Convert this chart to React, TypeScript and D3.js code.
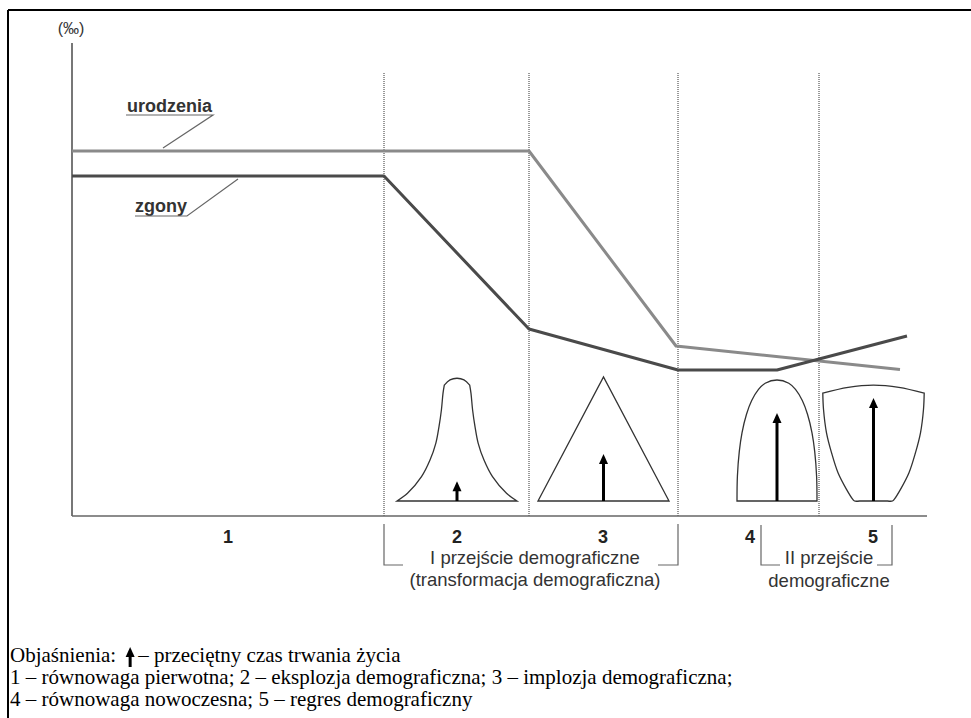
import React, { useLayoutEffect, useRef, useState } from 'react';
import * as d3 from 'd3';

const W = 971;
const H = 718;

// time axis in arbitrary units, rates in per mille
const phaseBounds = [31.2, 45.7, 60.6, 74.7];
const birthT = [0, 45.7, 60.4, 82.8];
const birthRate = [36.5, 36.5, 17.0, 14.65];
const deathT = [0, 31.2, 45.7, 60.6, 70.5, 83.5];
const deathRate = [34.0, 34.0, 18.7, 14.6, 14.6, 18.0];

const phaseLabels = ['1', '2', '3', '4', '5'];
const phaseLabelT = [15.6, 38.5, 53.1, 67.8, 80.1];

// age pyramids: centre (time units) and average life expectancy (pyramid units)
const pyramidT = [38.5, 53.15, 70.5, 80.15];
const lifeExpectancy = [16, 38, 71, 83];

// pyramid outlines: height (0-100) and half-width (time units)
const bellH = [0, 6.2, 19.6, 33, 46.5, 60, 73.4, 86.8, 93.5];
const bellHW = [6.0, 4.95, 3.55, 2.7, 2.12, 1.8, 1.56, 1.4, 1.27];
const bellCap = 99;
const triH = [0, 100];
const triHW = [6.55, 0];
const domeH = [0, 20, 40, 55, 70, 81, 90, 95, 97.6];
const domeHW = [4.0, 3.96, 3.77, 3.5, 3.05, 2.53, 1.85, 1.18, 0];
const cupH = [0, 0, 1.3, 9.4, 22.8, 39, 55, 74, 87];
const cupHW = [1.4, 1.9, 2.07, 2.7, 3.55, 4.2, 4.7, 5.0, 5.07];
const cupTop = 93.5;

const bracket1T = [31.2, 60.6];
const bracket2T = [68.9, 82.0];

const legendLines = [
  '1 – równowaga pierwotna; 2 – eksplozja demograficzna; 3 – implozja demograficzna;',
  '4 – równowaga nowoczesna; 5 – regres demograficzny',
];

const SANS = '"Liberation Sans", Arial, sans-serif';
const SERIF = '"Liberation Serif", "Times New Roman", serif';

export default function App() {
  const x = d3.scaleLinear().domain([0, 85.5]).range([72, 927]);
  const y = d3.scaleLinear().domain([0, 47.3]).range([516, 43]);
  const py = d3.scaleLinear().domain([0, 100]).range([501, 377]);

  const rateLine = d3
    .line<[number, number]>()
    .x((d) => x(d[0]))
    .y((d) => y(d[1]));
  const birthPath = rateLine(birthT.map((t, i) => [t, birthRate[i]]) as [number, number][]) || '';
  const deathPath = rateLine(deathT.map((t, i) => [t, deathRate[i]]) as [number, number][]) || '';

  const smooth = d3.curveCatmullRom.alpha(0.5);
  const seg = (pts: [number, number][], curve: d3.CurveFactory) =>
    d3
      .line<[number, number]>()
      .x((d) => x(d[0]))
      .y((d) => py(d[1]))
      .curve(curve)(pts) || '';
  const join = (...parts: string[]) =>
    parts.map((p, i) => (i === 0 ? p : p.replace(/^M/, 'L'))).join('') + 'Z';

  // bell (phase 2)
  const c2 = pyramidT[0];
  const bellLeft = bellH.map((h, i) => [c2 - bellHW[i], h] as [number, number]);
  const bellRight = bellH.map((h, i) => [c2 + bellHW[i], h] as [number, number]).reverse();
  const capW = bellHW[bellHW.length - 1];
  const capBase = bellH[bellH.length - 1];
  const bellCapPts: [number, number][] = [
    [c2 - capW, capBase],
    [c2 - capW * 0.55, bellCap - 1.3],
    [c2, bellCap],
    [c2 + capW * 0.55, bellCap - 1.3],
    [c2 + capW, capBase],
  ];
  const bellPath = join(seg(bellLeft, smooth), seg(bellCapPts, smooth), seg(bellRight, smooth));

  // triangle (phase 3)
  const c3 = pyramidT[1];
  const triPath = join(
    seg(
      [
        [c3 - triHW[0], triH[0]],
        [c3, triH[1]],
        [c3 + triHW[0], triH[0]],
      ],
      d3.curveLinear
    )
  );

  // dome (phase 4)
  const c4 = pyramidT[2];
  const domePts: [number, number][] = [
    ...domeH.map((h, i) => [c4 - domeHW[i], h] as [number, number]),
    ...domeH
      .slice(0, -1)
      .map((h, i) => [c4 + domeHW[i], h] as [number, number])
      .reverse(),
  ];
  const domePath = join(seg(domePts, smooth));

  // cup (phase 5)
  const c5 = pyramidT[3];
  const topW = cupHW[cupHW.length - 1];
  const topBase = cupH[cupH.length - 1];
  const cupLeft = cupH.map((h, i) => [c5 - cupHW[i], h] as [number, number]);
  const cupRight = cupH.map((h, i) => [c5 + cupHW[i], h] as [number, number]).reverse();
  const cupTopPts: [number, number][] = [
    [c5 - topW, topBase],
    [c5 - topW * 0.5, cupTop - 1.8],
    [c5, cupTop],
    [c5 + topW * 0.5, cupTop - 1.8],
    [c5 + topW, topBase],
  ];
  const cupPath = join(seg(cupLeft, smooth), seg(cupTopPts, smooth), seg(cupRight, smooth));

  const pyramidPaths = [bellPath, triPath, domePath, cupPath];

  const arrow = (cx: number, base: number, tip: number, key: string) => (
    <g key={key}>
      <line x1={cx} x2={cx} y1={base} y2={tip + 8} stroke="#000" strokeWidth={3} />
      <path d={`M${cx},${tip}L${cx + 4.5},${tip + 10}L${cx - 4.5},${tip + 10}Z`} fill="#000" />
    </g>
  );

  // legend measuring
  const objRef = useRef<SVGTextElement>(null);
  const [objLen, setObjLen] = useState(106);
  useLayoutEffect(() => {
    if (objRef.current) setObjLen(objRef.current.getComputedTextLength());
  }, []);
  const legendArrowX = 10 + objLen + 14;

  // label anchors on the lines
  const uLeaderEnd = [x(9.1), y(birthRate[0]) - 3];
  const zLeaderEnd = [x(16.6), y(deathRate[0]) + 3];

  return (
    <svg
      width={W}
      height={H}
      style={{ position: 'absolute', left: 0, top: 0, display: 'block', background: '#fff' }}
    >
      <rect x={0} y={0} width={W} height={H} fill="#fff" />
      {/* frame */}
      <line x1={8} x2={W} y1={10} y2={10} stroke="#000" strokeWidth={2} />
      <line x1={8} x2={8} y1={10} y2={H} stroke="#000" strokeWidth={2} />

      {/* y axis */}
      <line x1={x(0)} x2={x(0)} y1={y(47.3)} y2={y(0)} stroke="#777" strokeWidth={2} />
      <text x={x(0) - 1} y={34} textAnchor="middle" fontFamily={SANS} fontSize={16} fill="#333">
        (‰)
      </text>

      {/* phase dividers */}
      {phaseBounds.map((t) => (
        <line
          key={t}
          x1={x(t)}
          x2={x(t)}
          y1={73}
          y2={y(0)}
          stroke="#333"
          strokeWidth={1}
          strokeDasharray="1,1"
        />
      ))}

      {/* baseline */}
      <line x1={x(0)} x2={x(85.5)} y1={y(0)} y2={y(0)} stroke="#666" strokeWidth={1.5} />

      {/* rates */}
      <path d={birthPath} fill="none" stroke="#8a8a8a" strokeWidth={3} strokeLinejoin="round" />
      <path d={deathPath} fill="none" stroke="#4a4a4a" strokeWidth={3} strokeLinejoin="round" />

      {/* series labels */}
      <text x={127} y={112} fontFamily={SANS} fontWeight="bold" fontSize={18} fill="#333">
        urodzenia
      </text>
      <path
        d={`M126,115H213L${uLeaderEnd[0]},${uLeaderEnd[1]}`}
        fill="none"
        stroke="#666"
        strokeWidth={1.2}
      />
      <text x={135} y={212} fontFamily={SANS} fontWeight="bold" fontSize={18} fill="#333">
        zgony
      </text>
      <path
        d={`M135,216H187L${zLeaderEnd[0]},${zLeaderEnd[1]}`}
        fill="none"
        stroke="#666"
        strokeWidth={1.2}
      />

      {/* pyramids */}
      {pyramidPaths.map((d, i) => (
        <path key={i} d={d} fill="#fff" stroke="#333" strokeWidth={1.3} />
      ))}
      {pyramidT.map((t, i) => arrow(x(t), py(0), py(lifeExpectancy[i]), 'a' + i))}

      {/* phase numbers */}
      {phaseLabels.map((l, i) => (
        <text
          key={l}
          x={x(phaseLabelT[i])}
          y={543}
          textAnchor="middle"
          fontFamily={SANS}
          fontWeight="bold"
          fontSize={18}
          fill="#222"
        >
          {l}
        </text>
      ))}

      {/* brackets */}
      <path
        d={`M${x(bracket1T[0])},524V565H${x(bracket1T[0]) + 19}M${x(bracket1T[1]) - 20},565H${x(
          bracket1T[1]
        )}V524`}
        fill="none"
        stroke="#666"
        strokeWidth={1.2}
      />
      <path
        d={`M${x(bracket2T[0])},525V565H${x(bracket2T[0]) + 19}M${x(bracket2T[1]) - 15},565H${x(
          bracket2T[1]
        )}V525`}
        fill="none"
        stroke="#666"
        strokeWidth={1.2}
      />
      <text x={535} y={564} textAnchor="middle" fontFamily={SANS} fontSize={18.5} fill="#333">
        I przejście demograficzne
      </text>
      <text x={535} y={586} textAnchor="middle" fontFamily={SANS} fontSize={18.5} fill="#333">
        (transformacja demograficzna)
      </text>
      <text x={829} y={564} textAnchor="middle" fontFamily={SANS} fontSize={18.5} fill="#333">
        II przejście
      </text>
      <text x={829} y={587} textAnchor="middle" fontFamily={SANS} fontSize={18.5} fill="#333">
        demograficzne
      </text>

      {/* legend */}
      <text ref={objRef} x={10} y={662} fontFamily={SERIF} fontSize={21} fill="#000">
        Objaśnienia:
      </text>
      {arrow(legendArrowX, 667, 647, 'legend')}
      <text x={legendArrowX + 8} y={662} fontFamily={SERIF} fontSize={21} fill="#000">
        – przeciętny czas trwania życia
      </text>
      {legendLines.map((l, i) => (
        <text key={i} x={10} y={684 + i * 22} fontFamily={SERIF} fontSize={21} fill="#000">
          {l}
        </text>
      ))}
    </svg>
  );
}
